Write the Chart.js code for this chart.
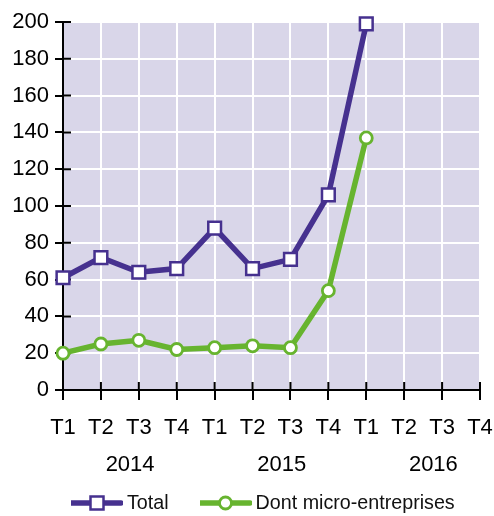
<!DOCTYPE html>
<html>
<head>
<meta charset="utf-8">
<script src="https://cdn.jsdelivr.net/npm/chart.js@4/dist/chart.umd.min.js"></script>
<style>
  html, body { margin: 0; padding: 0; background: #fff; }
  #wrap { position: relative; width: 494px; height: 516px; }
  #legend {
    position: absolute; left: 71px; top: 491px;
    display: flex; align-items: center;
    font-family: "Liberation Sans", Arial, sans-serif; font-size: 19.7px; color: #111;
  }
  #legend .item { display: flex; align-items: center; }
  #legend svg { display: block; margin-right: 4px; }
</style>
</head>
<body>
<div id="wrap">
  <canvas id="chart" width="494" height="516"></canvas>
  <div id="legend"></div>
</div>
<script>
// Données
const quarters = ['T1', 'T2', 'T3', 'T4', 'T1', 'T2', 'T3', 'T4', 'T1', 'T2', 'T3', 'T4'];
const years = ['2014', '2015', '2016'];
const totalValues = [61, 72, 64, 66, 88, 66, 71, 106, 199];
const microValues = [20, 25, 27, 22, 23, 24, 23, 54, 137];
const yTicks = [0, 20, 40, 60, 80, 100, 120, 140, 160, 180, 200];

const PURPLE = '#46318f';
const GREEN = '#67b42f';
const BG = '#d9d6e9';
const FONT = '"Liberation Sans", Arial, sans-serif';

// fond du graphique
const plotBg = {
  id: 'plotBg',
  beforeDraw(chart) {
    const a = chart.chartArea, ctx = chart.ctx;
    ctx.save();
    ctx.fillStyle = BG;
    ctx.fillRect(a.left, a.top, a.right - a.left, a.bottom - a.top);
    ctx.restore();
  }
};

// partie intérieure des graduations (elles traversent l'axe)
const crossTicks = {
  id: 'crossTicks',
  beforeDatasetsDraw(chart) {
    const a = chart.chartArea, ctx = chart.ctx;
    const xs = chart.scales.x, ys = chart.scales.y;
    ctx.save();
    ctx.strokeStyle = '#000';
    ctx.lineWidth = 2;
    ctx.beginPath();
    ys.ticks.forEach(function(t) {
      const y = ys.getPixelForValue(t.value);
      ctx.moveTo(a.left, y);
      ctx.lineTo(a.left + 8, y);
    });
    xs.ticks.forEach(function(t, i) {
      const x = xs.getPixelForTick(i);
      ctx.moveTo(x, a.bottom);
      ctx.lineTo(x, a.bottom - 8);
    });
    ctx.stroke();
    ctx.restore();
  }
};

// pas de marge automatique pour les étiquettes débordantes
function noSidePadding(scale) {
  scale.paddingLeft = 0;
  scale.paddingRight = 0;
}

const ctx = document.getElementById('chart').getContext('2d');
const chart = new Chart(ctx, {
  type: 'line',
  data: {
    labels: quarters,
    datasets: [
      {
        label: 'Total', data: totalValues,
        borderColor: PURPLE, borderWidth: 5.5,
        pointStyle: 'rect', pointRadius: 9, pointBorderWidth: 2.5,
        pointBackgroundColor: '#fff', pointBorderColor: PURPLE,
        tension: 0, clip: false
      },
      {
        label: 'Dont micro-entreprises', data: microValues,
        borderColor: GREEN, borderWidth: 5.5,
        pointStyle: 'circle', pointRadius: 6, pointBorderWidth: 2.8,
        pointBackgroundColor: '#fff', pointBorderColor: GREEN,
        tension: 0, clip: false
      }
    ]
  },
  options: {
    responsive: false,
    animation: false,
    layout: { padding: { top: 22, right: 14, left: 0, bottom: 36 } },
    plugins: { legend: { display: false }, tooltip: { enabled: false } },
    scales: {
      x: {
        type: 'category', offset: false, weight: 0,
        grid: { color: '#fff', lineWidth: 2, tickColor: '#000', tickWidth: 2, tickLength: 10 },
        border: { color: '#000', width: 2 },
        ticks: { color: '#000', font: { family: FONT, size: 22 }, padding: 15, autoSkip: false, maxRotation: 0 },
        afterFit(scale) { scale.height = 50; noSidePadding(scale); }
      },
      years: {
        type: 'linear', position: 'bottom', weight: 1, min: 0, max: quarters.length - 1,
        grid: { display: false, drawTicks: false },
        border: { display: false },
        afterBuildTicks(scale) {
          scale.ticks = years.map(function(y, i) { return { value: i * 4 + 1.77, label: y }; });
        },
        ticks: {
          color: '#000', font: { family: FONT, size: 22 }, padding: 12, autoSkip: false, maxRotation: 0,
          callback: function(v, i) { return years[i]; }
        },
        afterFit(scale) { scale.height = 40; noSidePadding(scale); }
      },
      y: {
        min: 0, max: 200,
        afterBuildTicks(scale) { scale.ticks = yTicks.map(function(v) { return { value: v }; }); },
        grid: { color: '#fff', lineWidth: 2, tickColor: '#000', tickWidth: 2, tickLength: 8 },
        border: { color: '#000', width: 2 },
        ticks: { color: '#000', font: { family: FONT, size: 22 }, padding: 6 },
        afterFit(scale) { scale.width = 63; }
      }
    }
  },
  plugins: [plotBg, crossTicks]
});

// légende HTML : trait + marqueur
function buildLegend() {
  const box = document.getElementById('legend');
  chart.data.datasets.forEach(function(ds, i) {
    const item = document.createElement('div');
    item.className = 'item';
    if (i > 0) item.style.marginLeft = '31px';
    let marker;
    if (ds.pointStyle === 'rect') {
      marker = '<rect x="19.5" y="3.5" width="13" height="13" fill="#fff" stroke="' + ds.borderColor + '" stroke-width="2.5"/>';
    } else {
      marker = '<circle cx="25.5" cy="10" r="6" fill="#fff" stroke="' + ds.borderColor + '" stroke-width="2.8"/>';
    }
    item.innerHTML = '<svg width="52" height="20"><line x1="1" y1="10" x2="50" y2="10" stroke="' + ds.borderColor +
      '" stroke-width="5.5" stroke-linecap="round"/>' + marker + '</svg><span>' + ds.label + '</span>';
    box.appendChild(item);
  });
}
buildLegend();
</script>
</body>
</html>
